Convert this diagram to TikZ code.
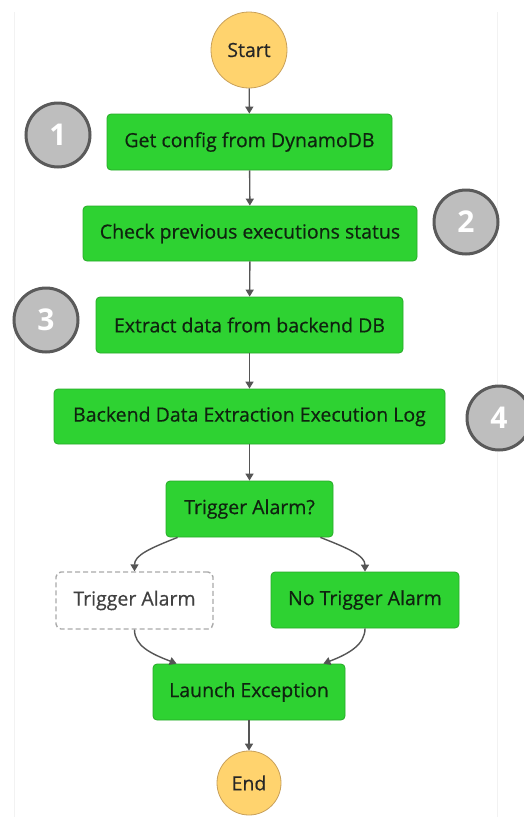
\documentclass[tikz,border=0pt]{standalone}
\usepackage{fontspec}
\setmainfont{Open Sans}
\newfontface\medfont{Open Sans}[FakeBold=0.5]
\usetikzlibrary{arrows.meta,calc}
\definecolor{stepgreen}{RGB}{46,210,50}
\definecolor{stepedge}{RGB}{40,170,40}
\definecolor{steptext}{RGB}{15,35,15}
\definecolor{termfill}{RGB}{255,211,110}
\definecolor{termedge}{RGB}{200,160,90}
\definecolor{badgefill}{RGB}{190,190,190}
\definecolor{badgeedge}{RGB}{90,90,90}
\definecolor{linkgray}{RGB}{85,85,85}
\definecolor{dashgray}{RGB}{170,170,170}
\tikzset{
  labelfont/.style={font=\medfont\fontsize{19.5}{22}\selectfont},
  stepbox/.style={draw=stepedge, line width=0.8pt, fill=stepgreen, rounded corners=4pt,
    inner sep=0pt, text=steptext, labelfont},
  passbox/.style={draw=dashgray, dashed, dash pattern=on 5pt off 3pt, line width=1.4pt,
    fill=white, rounded corners=5pt, inner sep=0pt, text=black!75, labelfont},
  terminal/.style={circle, draw=termedge, line width=0.8pt, fill=termfill, inner sep=0pt,
    text=black!85, labelfont},
  badge/.style={circle, draw=badgeedge, line width=3pt, fill=badgefill, inner sep=0pt,
    minimum size=64pt, text=white, font=\fontsize{30}{34}\selectfont\bfseries},
  link/.style={draw=linkgray, line width=1.4pt, -{Triangle[length=7pt,width=8pt]}},
}
\begin{document}
\begin{tikzpicture}[x=1pt,y=-1pt]
\useasboundingbox (0,0) rectangle (524,817);
\fill[white] (0,0) rectangle (524,817);
% faint page edges
\draw[black!5, line width=0.8pt] (14,12) -- (14,817);
\draw[black!5, line width=0.8pt] (497,12) -- (497,817);

% states
\node[terminal, minimum size=76pt] (start) at (249,50) {Start};
\node[stepbox, minimum width=285pt, minimum height=56pt] (s1) at (249.5,142) {Get config from DynamoDB};
\node[stepbox, minimum width=334pt, minimum height=55pt] (s2) at (250,233.5) {Check previous executions status};
\node[stepbox, minimum width=307pt, minimum height=56pt] (s3) at (249.5,325) {Extract data from backend DB};
\node[stepbox, minimum width=391pt, minimum height=55pt] (s4) at (249.5,416.5) {Backend Data Extraction Execution Log};
\node[stepbox, minimum width=167pt, minimum height=56pt] (q) at (249.5,509) {Trigger Alarm?};
\node[passbox, minimum width=157pt, minimum height=57pt] (ta) at (134.5,600.5) {Trigger Alarm};
\node[stepbox, minimum width=188pt, minimum height=56pt] (nta) at (365,600) {No Trigger Alarm};
\node[stepbox, minimum width=192pt, minimum height=56pt] (le) at (249,692) {Launch Exception};
\node[terminal, minimum size=64pt] (end) at (249,783) {End};

% step badges
\node[badge] (b1) at (58,135) {1};
\node[badge] (b2) at (466,222) {2};
\node[badge] (b3) at (46,320) {3};
\node[badge] (b4) at (499,418) {4};

% transitions
\draw[link] (start) -- (s1);
\draw[link] (s1) -- (s2);
\draw[link] (s2) -- (s3);
\draw[link] (s3) -- (s4);
\draw[link] (s4) -- (q);
\draw[link] ($(q.south west)+(12,0)$) .. controls +(-28,11) and +(0,-16) .. (ta.north);
\draw[link] ($(q.south east)+(-13,0)$) .. controls +(28,11) and +(0,-16) .. (nta.north);
\draw[link] (ta.south) .. controls +(0,16) and +(-26,-10) .. ($(le.north west)+(24,0)$);
\draw[link] (nta.south) .. controls +(0,16) and +(26,-10) .. ($(le.north east)+(-22,0)$);
\draw[link] (le) -- (end);
\end{tikzpicture}
\end{document}
